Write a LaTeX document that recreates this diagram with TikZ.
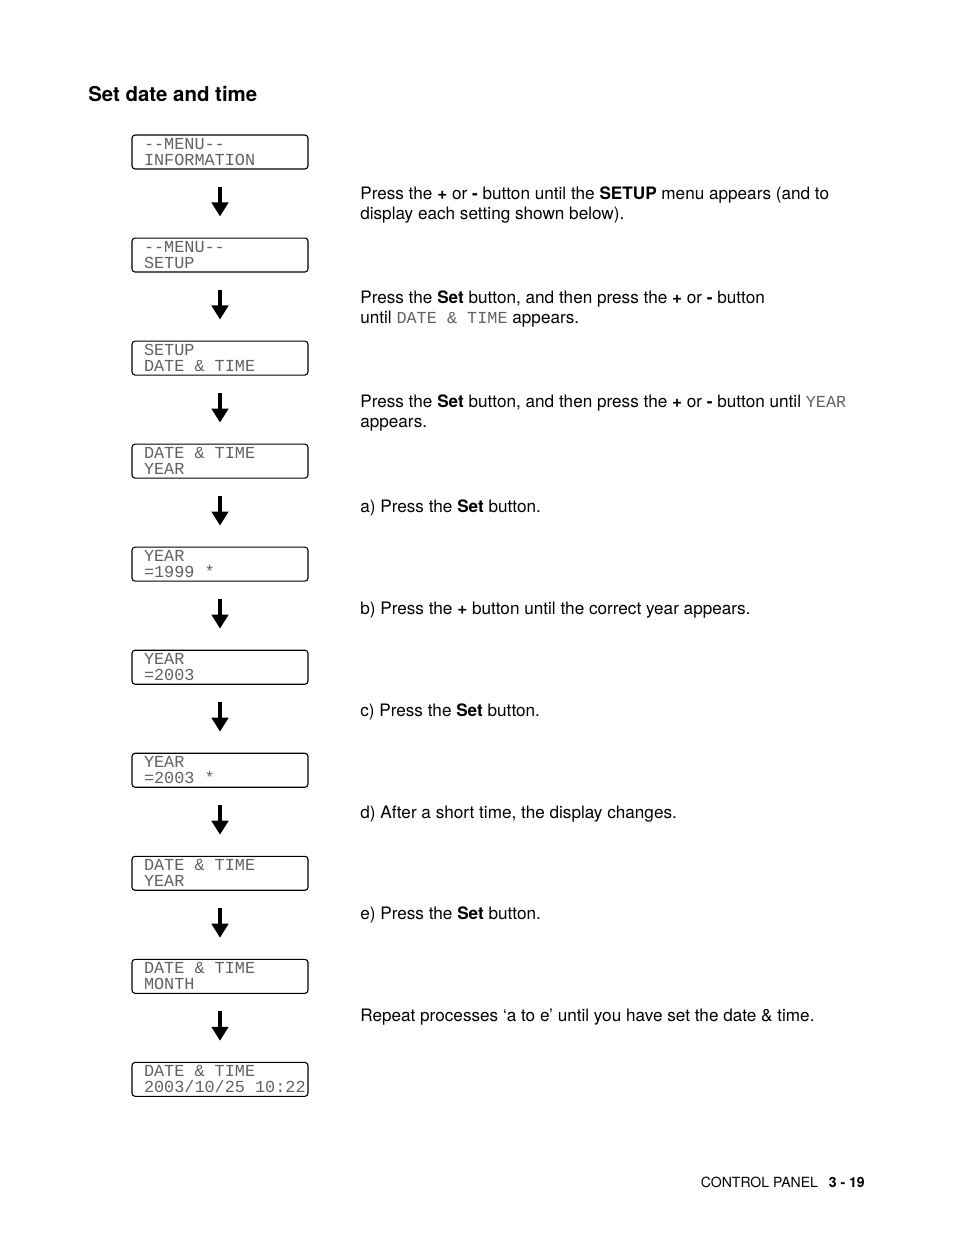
\documentclass[tikz,border=0pt]{standalone}
\usepackage{fontspec}
\setmainfont{TeX Gyre Heros}
\setmonofont{Liberation Mono}
\usepackage{xcolor}
\usetikzlibrary{positioning, arrows.meta}
\definecolor{lcdgray}{gray}{0.38}
\newcommand{\lcd}[1]{{\fontsize{10.8}{10.3}\selectfont\ttfamily\color{lcdgray}#1}}

\tikzset{
	Lcd/.style = {draw, rounded corners=2pt, line width=0.7pt,
		minimum width=112.9pt, minimum height=21.8pt,
		inner xsep=7.7pt, inner ysep=0.6pt, text width=97.5pt, align=flush left,
		font=\fontsize{10.8}{10.3}\selectfont\ttfamily, text=lcdgray,
		execute at begin node={\spaceskip=0pt\xspaceskip=0pt\relax}},
	Arrow/.style = {line width=2.6pt, -{Triangle[length=9pt, width=10.5pt]},
		shorten <=10.9pt, shorten >=13.5pt},
	Note/.style = {anchor=base west, align=left, inner sep=0pt,
		font=\fontsize{11}{12.8}\selectfont,
		execute at begin node={\spaceskip=0pt\xspaceskip=0pt\relax}}
}

\begin{document}
\begin{tikzpicture}[x=0.6415pt, y=0.6415pt, node distance=43.6pt]
	\useasboundingbox (0,0) rectangle (954,-1235);

	\node [anchor=base west, inner sep=0pt, font=\fontsize{13.1}{15}\selectfont\bfseries] (title) at (88,-101) {Set date and time};

	\node [Lcd] (m1) at (220,-152) {-{}-MENU-{}-\\INFORMATION};
	\node [Lcd, below =of m1] (m2) {-{}-MENU-{}-\\SETUP};
	\node [Lcd, below =of m2] (m3) {SETUP\\DATE \& TIME};
	\node [Lcd, below =of m3] (m4) {DATE \& TIME\\YEAR};
	\node [Lcd, below =of m4] (m5) {YEAR\\=1999 *};
	\node [Lcd, below =of m5] (m6) {YEAR\\=2003};
	\node [Lcd, below =of m6] (m7) {YEAR\\=2003 *};
	\node [Lcd, below =of m7] (m8) {DATE \& TIME\\YEAR};
	\node [Lcd, below =of m8] (m9) {DATE \& TIME\\MONTH};
	\node [Lcd, below =of m9] (m10) {DATE \& TIME\\2003/10/25~10:22};

	\foreach \a/\b in {1/2, 2/3, 3/4, 4/5, 5/6, 6/7, 7/8, 8/9, 9/10}
		\draw[Arrow] (m\a) -- (m\b);

	% two-line notes: base is the last line
	\node [Note] (n1) at (360,-219) {Press the \textbf{+} or \textbf{-} button until the \textbf{SETUP} menu appears (and to\\display each setting shown below).};
	\node [Note] (n2) at (360,-323) {Press the \textbf{Set} button, and then press the \textbf{+} or \textbf{-} button\\until \lcd{DATE \& TIME} appears.};
	\node [Note] (n3) at (360,-427) {Press the \textbf{Set} button, and then press the \textbf{+} or \textbf{-} button until \lcd{YEAR}\\appears.};
	\node [Note] (n4) at (360,-512) {a) Press the \textbf{Set} button.};
	\node [Note] (n5) at (360,-614) {b) Press the \textbf{+} button until the correct year appears.};
	\node [Note] (n6) at (360,-716) {c) Press the \textbf{Set} button.};
	\node [Note] (n7) at (360,-818) {d) After a short time, the display changes.};
	\node [Note] (n8) at (360,-919) {e) Press the \textbf{Set} button.};
	\node [Note] (n9) at (360,-1021) {Repeat processes `a to e' until you have set the date \& time.};

	\node [anchor=base east, inner sep=0pt, font=\fontsize{9}{11}\selectfont] (foot) at (865,-1187) {CONTROL PANEL\hspace{7pt}\textbf{3 - 19}};
\end{tikzpicture}
\end{document}
